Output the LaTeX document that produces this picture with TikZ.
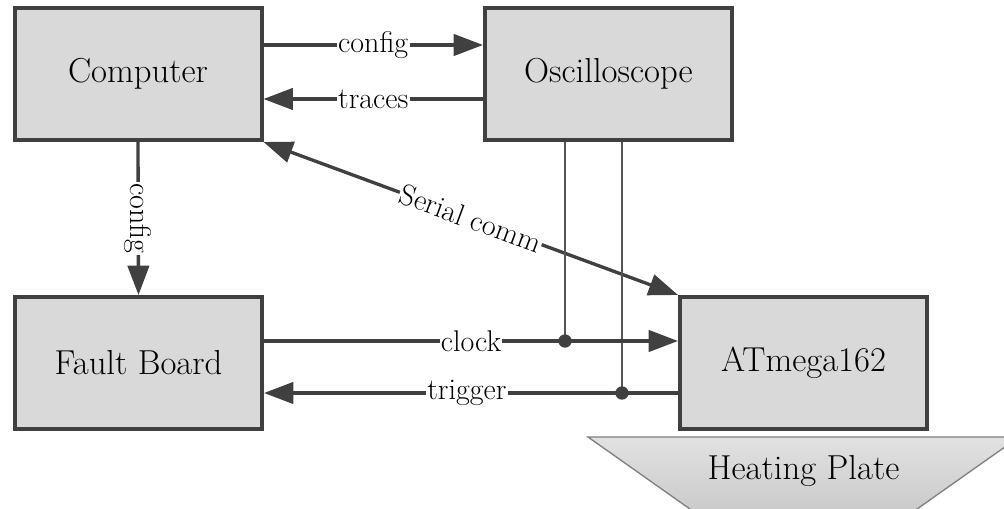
\documentclass[tikz,border=0pt]{standalone}
\usetikzlibrary{arrows.meta}
\usetikzlibrary{calc}
\definecolor{boxgray}{HTML}{D9D9D9}
\definecolor{linegray}{HTML}{404040}
\definecolor{wiregray}{HTML}{555555}
\definecolor{platetop}{HTML}{E2E2E2}
\definecolor{platebot}{HTML}{C9C9C9}
\tikzset{
	unit/.style={draw=linegray, line width=3pt, fill=boxgray, minimum width=185.25pt, minimum height=99pt, font=\rmfamily\fontsize{26pt}{30pt}\selectfont},
	link/.style={draw=linegray, line width=2.5pt},
	lbl/.style={fill=white, inner sep=1pt, text=black, font=\rmfamily\fontsize{22.5pt}{26pt}\selectfont},
	wire/.style={draw=wiregray, line width=1.5pt}
}
\newcommand{\tap}[1] % junction dot on a signal line
{
	\fill[linegray] (#1) circle (5pt);
}

\begin{document}
\begin{tikzpicture}[x=0.75pt, y=-0.75pt, >={Triangle[length=22pt, width=16pt]}]
	% page: 1004 x 509 px, y runs downwards
	\useasboundingbox (0, 0) rectangle (1004, 509);
	\clip (0, 0) rectangle (1004, 509);
	
	% heating plate below the chip
	\draw[draw=gray, line width=1pt, top color=platetop, bottom color=platebot]
		(588, 437) -- (1019, 437) -- (910, 514) -- (697, 514) -- cycle;
	\node[font=\rmfamily\fontsize{26pt}{30pt}\selectfont] (plate) at (803.5, 471) {Heating Plate};
	
	% blocks
	\node[unit] (comp) at (138, 74) {Computer};
	\node[unit] (osc) at (608.5, 74) {Oscilloscope};
	\node[unit] (fault) at (138.5, 363) {Fault Board};
	\node[unit] (atm) at (803.5, 363) {ATmega162};
	
	% computer <-> scope
	\draw[link, ->] ([yshift=21.75pt]comp.east) -- node[lbl] {config} ([yshift=21.75pt]osc.west);
	\draw[link, ->] ([yshift=-18.75pt]osc.west) -- node[lbl] {traces} ([yshift=-18.75pt]comp.east);
	
	% computer -> fault board
	\draw[link, ->] (comp.south) -- node[lbl, rotate=-90] {config} (fault.north);
	
	% serial line
	\draw[link, <->] (comp.south east) -- node[lbl, sloped] {Serial comm} (atm.north west);
	
	% clock and trigger, tapped by the scope
	\coordinate (clk) at (565, 341);
	\coordinate (trg) at (622, 393);
	\draw[wire] (osc.south -| clk) -- (clk);
	\draw[wire] (osc.south -| trg) -- (trg);
	\draw[link, ->] (fault.east |- clk) -- node[lbl, pos=0.5] {clock} (atm.west |- clk);
	\draw[link, ->] (atm.west |- trg) -- node[lbl, pos=0.51] {trigger} (fault.east |- trg);
	\tap{clk};
	\tap{trg};
	
\end{tikzpicture}
\end{document}
